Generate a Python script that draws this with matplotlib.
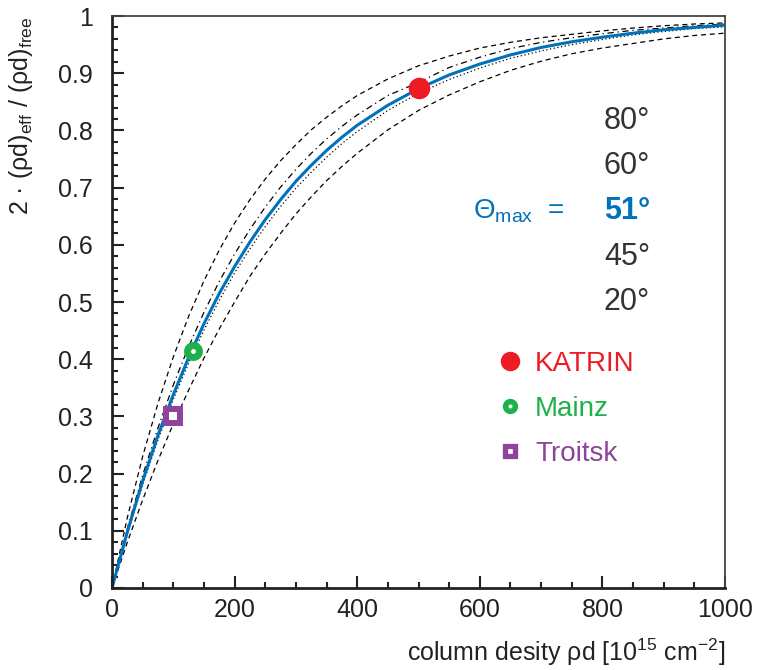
import matplotlib
matplotlib.use("Agg")
import matplotlib.pyplot as plt
from matplotlib.lines import Line2D
from matplotlib.ticker import MultipleLocator

plt.rcParams['font.family'] = ['Liberation Sans', 'DejaVu Sans']
plt.rcParams['mathtext.default'] = 'regular'

# column density grid (1e15 cm^-2) and curves
rho_d = [0, 25, 50, 75, 100, 125, 150, 175, 200, 225, 250, 275, 300, 325, 350, 375, 400,
         450, 500, 550, 600, 650, 700, 750, 800, 850, 900, 950, 1000]
ratio_80 = [0, 0.123, 0.230, 0.323, 0.404, 0.475, 0.537, 0.591, 0.638, 0.679, 0.715, 0.747, 0.775,
            0.801, 0.823, 0.843, 0.861, 0.890, 0.913, 0.930, 0.944, 0.954, 0.962, 0.968, 0.974,
            0.979, 0.983, 0.986, 0.988]
ratio_60 = [0, 0.104, 0.197, 0.280, 0.355, 0.422, 0.482, 0.536, 0.584, 0.627, 0.666, 0.701, 0.732,
            0.760, 0.785, 0.807, 0.827, 0.861, 0.884, 0.910, 0.928, 0.943, 0.954, 0.962, 0.969,
            0.975, 0.979, 0.983, 0.986]
ratio_51 = [0, 0.098, 0.187, 0.267, 0.338, 0.403, 0.462, 0.515, 0.562, 0.605, 0.644, 0.679, 0.711,
            0.739, 0.765, 0.788, 0.809, 0.844, 0.873, 0.897, 0.916, 0.932, 0.945, 0.955, 0.963,
            0.970, 0.976, 0.980, 0.984]
ratio_45 = [0, 0.095, 0.181, 0.259, 0.330, 0.393, 0.451, 0.503, 0.551, 0.593, 0.632, 0.667, 0.699,
            0.727, 0.753, 0.777, 0.798, 0.835, 0.865, 0.889, 0.909, 0.926, 0.939, 0.950, 0.959,
            0.967, 0.973, 0.978, 0.981]
ratio_20 = [0, 0.080, 0.154, 0.223, 0.287, 0.346, 0.402, 0.453, 0.500, 0.545, 0.584, 0.620, 0.654,
            0.684, 0.712, 0.737, 0.760, 0.801, 0.835, 0.862, 0.885, 0.905, 0.921, 0.934, 0.944,
            0.952, 0.960, 0.966, 0.970]

# experiments
exp_names = ['KATRIN', 'Mainz', 'Troitsk']
exp_rho = [500, 132, 99]
exp_ratio = [0.874, 0.415, 0.300]

angle_labels = ['80°', '60°', '51°', '45°', '20°']

BLUE = '#0072BC'
RED = '#ED1C24'
GREEN = '#1DB14B'
PURPLE = '#8E449B'

fig = plt.figure(figsize=(7.64, 6.70), dpi=100)
ax = fig.add_axes([0.1466, 0.1224, 0.8024, 0.8537])

ax.plot(rho_d, ratio_80, color='black', lw=0.9, ls=(0, (4, 3)))
ax.plot(rho_d, ratio_60, color='black', lw=0.9, ls=(0, (5, 3, 1, 3)))
ax.plot(rho_d, ratio_45, color='black', lw=0.9, ls=(0, (1, 2)))
ax.plot(rho_d, ratio_20, color='black', lw=0.9, ls=(0, (4, 3)))
ax.plot(rho_d, ratio_51, color=BLUE, lw=2.2, solid_capstyle='round', solid_joinstyle='round')

ax.plot(exp_rho[0], exp_ratio[0], 'o', color=RED, ms=14.5, zorder=5)
ax.plot(exp_rho[1], exp_ratio[1], 'o', mfc='white', mec=GREEN, ms=8.6, mew=5, zorder=5)
ax.plot(exp_rho[2], exp_ratio[2], 's', mfc='white', mec=PURPLE, ms=9.4, mew=4.3, zorder=5)

ax.set_xlim(0, 1000)
ax.set_ylim(0, 1)
ax.xaxis.set_major_locator(MultipleLocator(200))
ax.xaxis.set_minor_locator(MultipleLocator(50))
ax.yaxis.set_minor_locator(MultipleLocator(0.02))
ax.set_yticks([0, 0.1, 0.2, 0.3, 0.4, 0.5, 0.6, 0.7, 0.8, 0.9, 1.0])
ax.set_yticklabels(['0', '0.1', '0.2', '0.3', '0.4', '0.5', '0.6', '0.7', '0.8', '0.9', '1'])

ax.tick_params(which='both', direction='in', top=False, right=False, width=1.5, colors='#222222')
ax.tick_params(which='major', length=8.6, labelsize=18)
ax.tick_params(which='minor', length=4.3)
ax.tick_params(axis='y', which='major', pad=14)
ax.tick_params(axis='x', which='major', pad=7)

for s in ['left', 'bottom']:
    ax.spines[s].set_linewidth(2.0)
    ax.spines[s].set_color('#222222')
for s in ['top', 'right']:
    ax.spines[s].set_linewidth(1.3)
    ax.spines[s].set_color('#444444')

ax.set_xlabel('column desity ρd [10$^{15}$ cm$^{-2}$]', loc='right', fontsize=18, color='#222222', labelpad=11)
ax.set_ylabel('2 · (ρd)$_{eff}$ / (ρd)$_{free}$', loc='top', fontsize=18, color='#222222', labelpad=16)

# angle labels
angle_y = [0.816, 0.738, 0.659, 0.579, 0.500]
for lab, yy in zip(angle_labels, angle_y):
    if lab == '51°':
        ax.text(0.84, yy, lab, transform=ax.transAxes, ha='center', va='center',
                fontsize=22, color=BLUE, fontweight='bold')
    else:
        ax.text(0.84, yy, lab, transform=ax.transAxes, ha='center', va='center',
                fontsize=22, color='#333333')
ax.text(0.739, 0.659, 'Θ$_{max}$  =', transform=ax.transAxes, ha='right', va='center',
        fontsize=20, color=BLUE)

handles = [
    Line2D([], [], ls='none', marker='o', color=RED, ms=13),
    Line2D([], [], ls='none', marker='o', mfc='white', mec=GREEN, ms=7, mew=4),
    Line2D([], [], ls='none', marker='s', mfc='white', mec=PURPLE, ms=7.5, mew=3.8),
]
ax.legend(handles, exp_names, loc='upper left', bbox_to_anchor=(0.631, 0.414),
          frameon=False, fontsize=20, handlelength=0.8, handletextpad=0.5,
          labelspacing=0.68, borderpad=0, borderaxespad=0,
          labelcolor=[RED, GREEN, PURPLE])

fig.savefig('out.png', dpi=100)
